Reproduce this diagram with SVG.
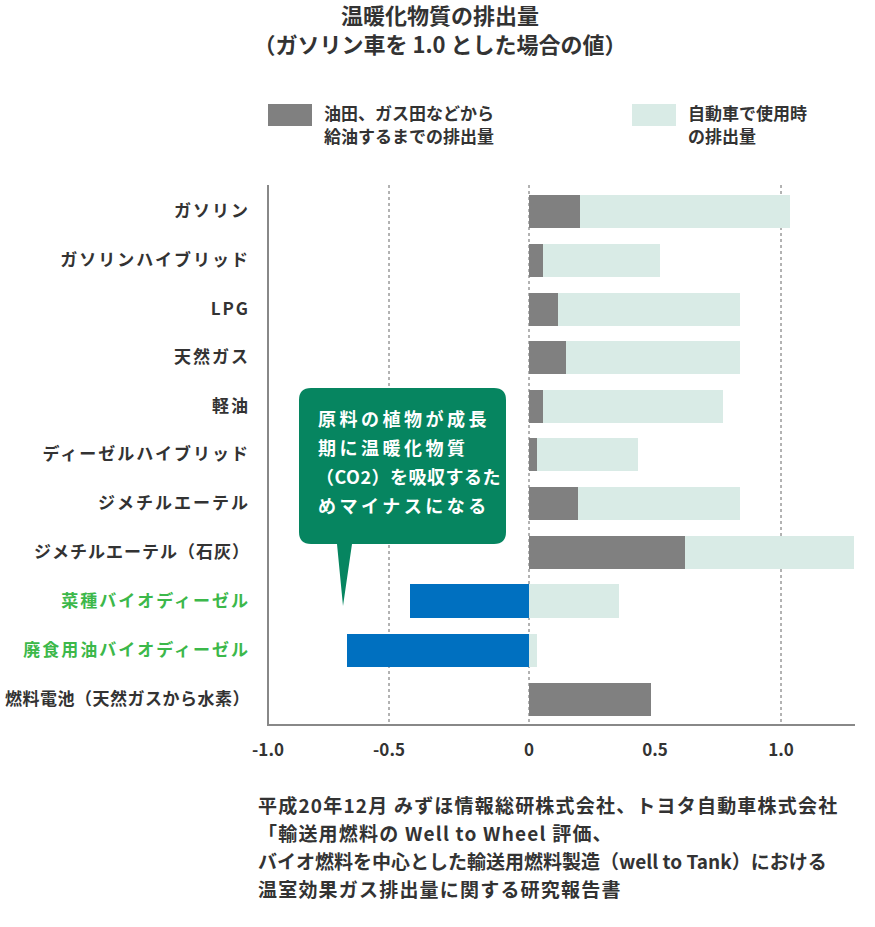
<svg xmlns="http://www.w3.org/2000/svg" width="875" height="927" viewBox="0 0 875 927">
<style>
text{font-family:"Noto Sans CJK JP","Noto Sans",sans-serif;font-weight:bold;fill:#333}
.t{font-size:22px}
.l{font-size:17px;text-anchor:end;letter-spacing:2px}
.g{fill:#3cb84a}
.a{font-size:17px;text-anchor:middle}
.s{font-size:17px}
.c{font-size:18px;letter-spacing:3.5px;fill:#fff}
.src{font-size:19px;letter-spacing:1.2px}
.d{fill:#808080}.p{fill:#d9ebe6}.b{fill:#0070c0}
.dot{stroke:#666;stroke-width:1;stroke-dasharray:3,3}
</style>
<rect width="875" height="927" fill="#fff"/>
<text class="t" x="440" y="24" text-anchor="middle">温暖化物質の排出量</text>
<text class="t" x="440" y="53" text-anchor="middle">（ガソリン車を 1.0 とした場合の値）</text>
<g id="legend">
<rect x="268" y="104" width="44" height="22" class="d"/>
<text class="s" x="324" y="120">油田、ガス田などから</text>
<text class="s" x="324" y="143">給油するまでの排出量</text>
<rect x="632" y="104" width="44" height="22" class="p"/>
<text class="s" x="688" y="120">自動車で使用時</text>
<text class="s" x="688" y="143">の排出量</text>
</g>
<g id="grid">
<line x1="389" y1="185" x2="389" y2="724" class="dot"/>
<line x1="529" y1="185" x2="529" y2="724" class="dot"/>
<line x1="781" y1="185" x2="781" y2="724" class="dot"/>
<polyline points="268,185 268,725 855,725" fill="none" stroke="#888" stroke-width="2"/>
</g>
<g id="bars">
<rect x="529" y="195" width="51" height="33" class="d"/><rect x="580" y="195" width="210" height="33" class="p"/>
<rect x="529" y="244" width="14" height="33" class="d"/><rect x="543" y="244" width="117" height="33" class="p"/>
<rect x="529" y="293" width="29" height="33" class="d"/><rect x="558" y="293" width="182" height="33" class="p"/>
<rect x="529" y="341" width="37" height="33" class="d"/><rect x="566" y="341" width="174" height="33" class="p"/>
<rect x="529" y="390" width="14" height="33" class="d"/><rect x="543" y="390" width="180" height="33" class="p"/>
<rect x="529" y="438" width="8" height="33" class="d"/><rect x="537" y="438" width="101" height="33" class="p"/>
<rect x="529" y="487" width="49" height="33" class="d"/><rect x="578" y="487" width="162" height="33" class="p"/>
<rect x="529" y="536" width="156" height="33" class="d"/><rect x="685" y="536" width="169" height="33" class="p"/>
<rect x="410" y="584" width="119" height="34" class="b"/><rect x="529" y="584" width="90" height="34" class="p"/>
<rect x="347" y="634" width="182" height="33" class="b"/><rect x="529" y="634" width="8" height="33" class="p"/>
<rect x="529" y="683" width="122" height="33" class="d"/>
</g>
<g id="labels">
<text class="l" x="250" y="217">ガソリン</text>
<text class="l" x="250" y="266">ガソリンハイブリッド</text>
<text class="l" x="250" y="315">LPG</text>
<text class="l" x="250" y="363">天然ガス</text>
<text class="l" x="250" y="412">軽油</text>
<text class="l" x="250" y="460">ディーゼルハイブリッド</text>
<text class="l" x="250" y="509">ジメチルエーテル</text>
<text class="l" x="250" y="558" style="letter-spacing:1px">ジメチルエーテル（石灰）</text>
<text class="l g" x="250" y="607">菜種バイオディーゼル</text>
<text class="l g" x="250" y="656">廃食用油バイオディーゼル</text>
<text class="l" x="250" y="705" style="letter-spacing:0.5px">燃料電池（天然ガスから水素）</text>
</g>
<g id="axis">
<text class="a" x="268" y="756">-1.0</text>
<text class="a" x="389" y="756">-0.5</text>
<text class="a" x="529" y="756">0</text>
<text class="a" x="655" y="756">0.5</text>
<text class="a" x="781" y="756">1.0</text>
</g>
<g id="callout">
<path d="M311,388 H494 Q506,388 506,400 V532 Q506,544 494,544 H352 L343,606 L337,544 H311 Q299,544 299,532 V400 Q299,388 311,388 Z" fill="#068560"/>
<text class="c" x="318" y="426">原料の植物が成長</text>
<text class="c" x="318" y="455">期に温暖化物質</text>
<text class="c" x="316" y="484" style="letter-spacing:0.5px">（CO2）を吸収するた</text>
<text class="c" x="318" y="513">めマイナスになる</text>
</g>
<g id="source">
<text class="src" x="258" y="813">平成20年12月 みずほ情報総研株式会社、トヨタ自動車株式会社</text>
<text class="src" x="258" y="841">「輸送用燃料の Well to Wheel 評価、</text>
<text class="src" x="258" y="869" style="letter-spacing:0">バイオ燃料を中心とした輸送用燃料製造（well to Tank）における</text>
<text class="src" x="258" y="897">温室効果ガス排出量に関する研究報告書</text>
</g>
</svg>
